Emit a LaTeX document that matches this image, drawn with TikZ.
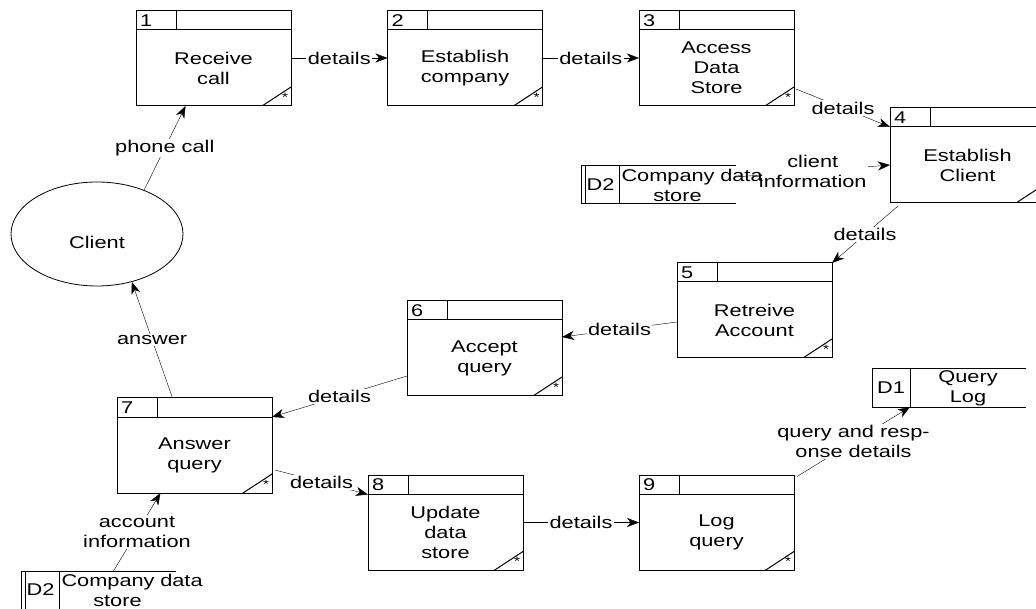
\documentclass[tikz,border=0pt]{standalone}
\usepackage{fontspec}
\setmainfont[FakeStretch=1.28]{Liberation Sans}
\usepackage{tikz}
\usetikzlibrary{
        arrows.meta,
        backgrounds,
        positioning,
        shapes,
        shapes.geometric
    }
\tikzset{>={Stealth[length=12pt,width=9pt,inset=3.5pt]},node distance=251.5pt}
\tikzset{
    proc/.style={draw, line width=1pt, outer sep=0pt, minimum width=155pt, minimum height=76pt, inner sep=2pt, align=center,
        label={[hdr]north:#1},
        path picture={
            \draw[line width=1pt] ([xshift=-29pt]path picture bounding box.south east) -- ([yshift=19pt]path picture bounding box.south east);
            \node[font=\fontsize{12}{12}\selectfont, inner sep=0pt] at ([xshift=-6pt,yshift=9pt]path picture bounding box.south east) {*};
        }},
    hdr/.style={draw, line width=1pt, outer sep=0pt, text width=147pt, inner xsep=4pt, inner ysep=0pt, minimum height=19pt, align=left,
        path picture={\draw[line width=1pt] ([xshift=40pt]path picture bounding box.north west) -- ([xshift=40pt]path picture bounding box.south west);}},
    store/.style={text width=112pt, inner xsep=2pt, inner ysep=0pt, outer sep=0pt, minimum height=38pt, align=center},
    sid/.style={minimum width=38pt, inner sep=0pt, outer sep=0pt},
    lbl/.style={fill=white, inner sep=1.5pt, align=center}
}

\begin{document}
\begin{tikzpicture}[x=1pt, y=-1pt, font=\fontsize{17}{20}\selectfont, line width=0.8pt]
                \useasboundingbox (0,0) rectangle (1036,609);
                \node[proc=1] (p1) at (213.5,68) {Receive\\call};
                \node[proc=2] (p2) [right of=p1] {Establish\\company};
                \node[proc=3] (p3) [right of=p2] {Access\\Data\\Store};
                \node[proc=4] (p4) at (967.5,165) {Establish\\Client};
                \node[proc=5] (p5) at (754.5,320) {Retreive\\Account};
                \node[proc=6] (p6) at (484.5,358) {Accept\\query};
                \node[proc=7] (p7) at (194.5,455) {Answer\\query};
                \node[proc=8] (p8) at (445.5,532.5) {Update\\data\\store};
                \node[proc=9] (p9) [right of=p8, node distance=271pt] {Log\\query};
                \node[draw, ellipse, minimum width=172pt, minimum height=104pt, label={[yshift=-8pt]center:Client}] (client) at (97,234) {};
                \node[store, label={[sid]west:D2}] (d2a) at (677.5,185) {Company~data\\store};
                \node[store, label={[sid]west:D2}] (d2b) at (117.5,590) {Company~data\\store};
                \node[store, label={[sid]west:D1}] (d1) at (968,388) {Query\\Log};
                \draw[line width=1pt] (d2a.north east) -- ([xshift=-38pt]d2a.north west) -- ([xshift=-38pt]d2a.south west) -- (d2a.south east)
                    (d2a.north west) -- (d2a.south west)
                    ([xshift=-34pt]d2a.north west) -- ([xshift=-34pt]d2a.south west);
                \draw[line width=1pt] (d2b.north east) -- ([xshift=-38pt]d2b.north west) -- ([xshift=-38pt]d2b.south west) -- (d2b.south east)
                    (d2b.north west) -- (d2b.south west)
                    ([xshift=-34pt]d2b.north west) -- ([xshift=-34pt]d2b.south west);
                \draw[line width=1pt] (d1.north east) -- ([xshift=-38pt]d1.north west) -- ([xshift=-38pt]d1.south west) -- (d1.south east)
                    (d1.north west) -- (d1.south west);
                \begin{scope}[on background layer]
                \path[->]
                    (client.43) edge node[lbl] {phone call} ([xshift=-28pt]p1.south)
                    ([yshift=10pt]p1.east) edge node[lbl] {details} ([yshift=10pt]p2.west)
                    ([yshift=10pt]p2.east) edge node[lbl] {details} ([yshift=10pt]p3.west)
                    ([xshift=2pt,yshift=17pt]p3.south east) edge node[lbl] {details} (p4.north west)
                    ([yshift=8pt]d2a.east) edge node[lbl] {client\\information} (p4.west)
                    ([xshift=8pt,yshift=-3pt]p4.south west) edge node[lbl] {details} ([yshift=19pt]p5.north east)
                    ([yshift=-2pt]p5.west) edge node[lbl] {details} ([yshift=21pt]p6.east)
                    ([yshift=-18pt]p6.west) edge node[lbl] {details} (p7.north east)
                    ([xshift=-22pt,yshift=19pt]p7.north) edge node[lbl] {answer} (client.-54)
                    ([xshift=-4pt]d2b.north) edge node[lbl] {account\\information} ([xshift=-34pt]p7.south)
                    ([xshift=3pt,yshift=23pt]p7.south east) edge node[lbl] {details} (p8.north west)
                    ([yshift=10pt]p8.east) edge node[lbl] {details} ([yshift=10pt]p9.west)
                    ([xshift=3pt,yshift=18pt]p9.north east) edge node[lbl] {query and resp-\\onse details} (d1.south west);
                \end{scope}
            \end{tikzpicture}
\end{document}
